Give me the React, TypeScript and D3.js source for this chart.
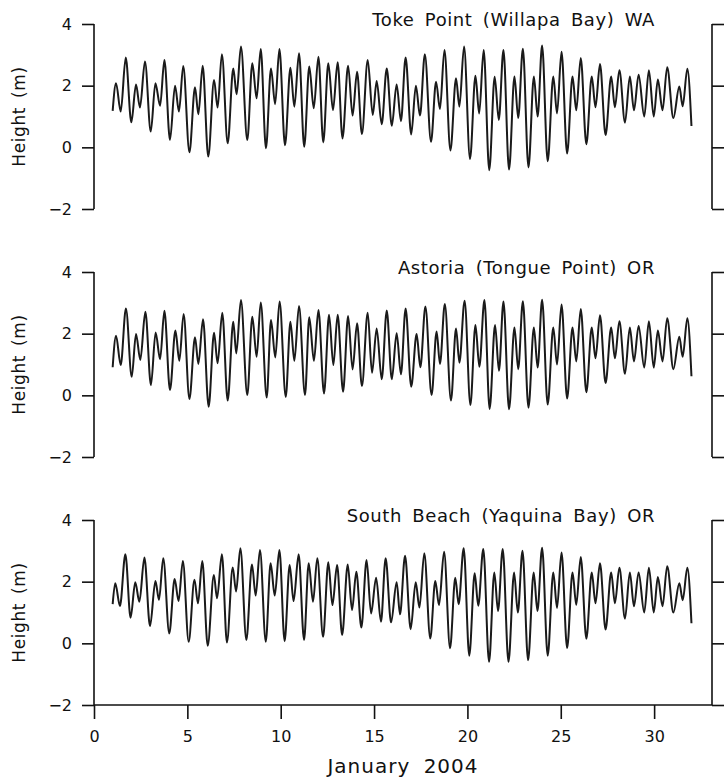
import React, { useEffect, useRef } from "react";
import * as d3 from "d3";

const W = 724;
const H = 780;

const stationNames = [
  "Toke Point (Willapa Bay) WA",
  "Astoria (Tongue Point) OR",
  "South Beach (Yaquina Bay) OR",
];
const yTickValues = [-2, 0, 2, 4];
const xTickValues = [0, 5, 10, 15, 20, 25, 30];
const xLabel = "January 2004";
const yLabel = "Height (m)";

// [day of January, height in m] at turning points
const tokePoint: [number, number][] = [
  [1.0, 1.18], [1.18, 2.08], [1.43, 1.16], [1.7, 2.91], [2.0, 0.81], [2.25, 2.04], [2.46, 1.29], [2.73, 2.78],
  [3.04, 0.51], [3.29, 2.08], [3.54, 1.35], [3.77, 2.83], [4.07, 0.24], [4.34, 2.0], [4.55, 1.16], [4.78, 2.64],
  [5.11, -0.16], [5.41, 1.95], [5.59, 1.07], [5.82, 2.65], [6.12, -0.3], [6.43, 2.18], [6.62, 1.29], [6.85, 3.02],
  [7.16, 0.13], [7.46, 2.56], [7.64, 1.72], [7.87, 3.27], [8.21, 0.24], [8.48, 2.73], [8.71, 1.59], [8.93, 3.19],
  [9.21, -0.03], [9.48, 2.56], [9.7, 1.4], [9.93, 3.19], [10.23, 0.07], [10.52, 2.58], [10.73, 1.32], [10.98, 3.05],
  [11.26, 0.02], [11.53, 2.62], [11.77, 1.27], [12.02, 2.94], [12.28, 0.16], [12.55, 2.73], [12.8, 1.21], [13.05, 2.76],
  [13.31, 0.29], [13.61, 2.65], [13.85, 1.03], [14.09, 2.45], [14.35, 0.43], [14.66, 2.83], [14.93, 1.05], [15.14, 2.15],
  [15.41, 0.75], [15.68, 2.56], [15.95, 0.7], [16.21, 2.04], [16.44, 0.85], [16.69, 2.91], [16.99, 0.42], [17.24, 2.0],
  [17.46, 1.03], [17.72, 3.02], [18.05, 0.18], [18.32, 2.13], [18.53, 1.24], [18.77, 3.16], [19.09, -0.1], [19.39, 2.24],
  [19.57, 1.32], [19.82, 3.27], [20.14, -0.38], [20.43, 2.32], [20.63, 1.1], [20.87, 3.16], [21.17, -0.74], [21.46, 2.29],
  [21.68, 0.89], [21.93, 3.16], [22.23, -0.72], [22.52, 2.3], [22.72, 0.95], [22.97, 3.2], [23.27, -0.65], [23.56, 2.3],
  [23.76, 1.0], [24.0, 3.3], [24.3, -0.45], [24.6, 2.3], [24.8, 1.1], [25.04, 3.1], [25.34, -0.2], [25.63, 2.3],
  [25.83, 1.2], [26.07, 2.9], [26.37, 0.1], [26.66, 2.3], [26.86, 1.3], [27.1, 2.7], [27.4, 0.4], [27.7, 2.3],
  [27.9, 1.3], [28.14, 2.5], [28.44, 0.8], [28.7, 2.3], [28.92, 1.2], [29.17, 2.35], [29.47, 1.0], [29.72, 2.5],
  [29.98, 1.0], [30.2, 2.2], [30.45, 1.2], [30.7, 2.6], [31.03, 0.95], [31.35, 1.97], [31.53, 1.33], [31.78, 2.55], [32.0, 0.69],
];

const astoria: [number, number][] = [
  [1.0, 0.91], [1.18, 1.93], [1.43, 0.98], [1.71, 2.82], [2.02, 0.6], [2.25, 1.99], [2.48, 1.15], [2.75, 2.71],
  [3.05, 0.33], [3.3, 2.04], [3.54, 1.17], [3.77, 2.74], [4.07, 0.17], [4.36, 2.1], [4.57, 1.12], [4.8, 2.64],
  [5.11, -0.12], [5.41, 1.88], [5.59, 1.02], [5.84, 2.47], [6.14, -0.37], [6.43, 2.03], [6.62, 1.04], [6.87, 2.68],
  [7.16, -0.17], [7.46, 2.39], [7.62, 1.36], [7.87, 3.09], [8.21, 0.01], [8.48, 2.55], [8.71, 1.25], [8.93, 3.01],
  [9.25, -0.07], [9.48, 2.44], [9.71, 1.23], [9.94, 3.04], [10.27, -0.05], [10.52, 2.39], [10.73, 1.12], [10.98, 2.9],
  [11.3, 0.01], [11.53, 2.53], [11.78, 1.12], [12.02, 2.77], [12.32, 0.06], [12.59, 2.61], [12.82, 0.98], [13.05, 2.61],
  [13.34, 0.12], [13.61, 2.57], [13.85, 0.84], [14.09, 2.34], [14.35, 0.3], [14.66, 2.68], [14.89, 0.73], [15.14, 2.17],
  [15.41, 0.52], [15.68, 2.75], [15.95, 0.52], [16.21, 2.01], [16.44, 0.68], [16.69, 2.82], [16.99, 0.28], [17.28, 1.99],
  [17.48, 0.91], [17.75, 2.88], [18.08, 0.01], [18.35, 2.07], [18.53, 1.02], [18.79, 2.96], [19.12, -0.17], [19.39, 2.17],
  [19.57, 1.06], [19.85, 3.07], [20.16, -0.31], [20.43, 2.28], [20.64, 0.93], [20.91, 3.09], [21.19, -0.44], [21.48, 2.28],
  [21.69, 0.8], [21.93, 3.04], [22.23, -0.45], [22.52, 2.2], [22.72, 0.85], [22.97, 3.05], [23.27, -0.4], [23.56, 2.2],
  [23.76, 0.9], [24.0, 3.1], [24.3, -0.3], [24.6, 2.2], [24.8, 1.0], [25.04, 2.95], [25.34, -0.1], [25.63, 2.2],
  [25.83, 1.1], [26.07, 2.8], [26.37, 0.1], [26.66, 2.2], [26.86, 1.2], [27.1, 2.6], [27.4, 0.4], [27.7, 2.2],
  [27.9, 1.2], [28.14, 2.4], [28.44, 0.7], [28.7, 2.2], [28.92, 1.1], [29.17, 2.25], [29.47, 0.9], [29.72, 2.4],
  [29.98, 0.9], [30.2, 2.1], [30.45, 1.1], [30.7, 2.5], [31.03, 0.85], [31.35, 1.9], [31.53, 1.25], [31.78, 2.5], [32.0, 0.62],
];

const southBeach: [number, number][] = [
  [1.0, 1.27], [1.14, 1.95], [1.39, 1.21], [1.68, 2.89], [1.96, 0.83], [2.21, 1.98], [2.43, 1.35], [2.7, 2.78],
  [3.0, 0.56], [3.29, 2.02], [3.48, 1.41], [3.71, 2.76], [4.03, 0.32], [4.32, 2.09], [4.53, 1.37], [4.76, 2.67],
  [5.07, 0.05], [5.38, 2.06], [5.57, 1.3], [5.8, 2.67], [6.09, -0.08], [6.42, 2.22], [6.59, 1.46], [6.85, 2.89],
  [7.12, 0.03], [7.43, 2.46], [7.61, 1.68], [7.84, 3.08], [8.16, 0.11], [8.46, 2.56], [8.66, 1.55], [8.89, 3.03],
  [9.2, 0.05], [9.46, 2.6], [9.68, 1.55], [9.93, 3.03], [10.21, 0.07], [10.48, 2.54], [10.69, 1.37], [10.96, 2.89],
  [11.25, 0.11], [11.5, 2.6], [11.73, 1.35], [11.96, 2.76], [12.27, 0.21], [12.55, 2.63], [12.77, 1.24], [13.02, 2.54],
  [13.29, 0.27], [13.59, 2.56], [13.82, 1.08], [14.05, 2.32], [14.32, 0.51], [14.6, 2.7], [14.84, 0.97], [15.11, 2.13],
  [15.37, 0.7], [15.62, 2.76], [15.91, 0.68], [16.21, 1.98], [16.39, 0.94], [16.66, 2.84], [16.96, 0.46], [17.23, 1.98],
  [17.43, 1.16], [17.69, 2.92], [18.01, 0.16], [18.28, 2.02], [18.48, 1.24], [18.75, 2.97], [19.07, -0.16], [19.35, 2.13],
  [19.53, 1.27], [19.8, 3.08], [20.1, -0.4], [20.39, 2.27], [20.58, 1.22], [20.85, 3.06], [21.16, -0.6], [21.44, 2.3],
  [21.64, 1.05], [21.89, 3.06], [22.2, -0.6], [22.5, 2.3], [22.7, 1.0], [22.95, 3.0], [23.25, -0.55], [23.55, 2.3],
  [23.75, 1.05], [24.0, 3.1], [24.3, -0.4], [24.6, 2.3], [24.8, 1.15], [25.04, 2.95], [25.34, -0.15], [25.63, 2.3],
  [25.83, 1.25], [26.07, 2.8], [26.37, 0.15], [26.66, 2.3], [26.86, 1.3], [27.1, 2.6], [27.4, 0.45], [27.7, 2.3],
  [27.9, 1.3], [28.14, 2.45], [28.44, 0.8], [28.7, 2.3], [28.92, 1.2], [29.17, 2.3], [29.47, 1.0], [29.72, 2.45],
  [29.98, 1.0], [30.2, 2.15], [30.45, 1.2], [30.7, 2.5], [31.03, 1.0], [31.35, 1.95], [31.53, 1.4], [31.78, 2.45], [32.0, 0.65],
];

const allSeries = [tokePoint, astoria, southBeach];

export default function App() {
  const ref = useRef<SVGSVGElement>(null);

  useEffect(() => {
    const svg = d3.select(ref.current);
    svg.selectAll("*").remove();
    const font = "'DejaVu Sans', sans-serif";

    const x = d3.scaleLinear().domain([0, 33.1]).range([94, 712]);
    const panelStep = 248;

    allSeries.forEach((data, i) => {
      const top = 24 + panelStep * i;
      const y = d3.scaleLinear().domain([-2, 4]).range([top + 185, top]);
      const g = svg.append("g");

      const left = g
        .append("g")
        .attr("transform", "translate(94,0)")
        .call(
          d3
            .axisLeft(y)
            .tickValues(yTickValues)
            .tickSize(12)
            .tickPadding(10)
            .tickFormat(d3.format("d"))
        );
      left.select(".domain").attr("d", `M0,${y(4)}V${y(-2)}`);
      left.selectAll("line, path").attr("stroke", "#111").attr("stroke-width", 1.6);
      left
        .selectAll("text")
        .attr("font-family", font)
        .attr("font-size", 16)
        .attr("fill", "#111");

      const right = g
        .append("g")
        .attr("transform", "translate(712,0)")
        .call(d3.axisRight(y).tickValues(yTickValues).tickSize(12).tickFormat(() => ""));
      right.select(".domain").attr("d", `M0,${y(4)}V${y(-2)}`);
      right.selectAll("line, path").attr("stroke", "#111").attr("stroke-width", 1.6);

      g.append("text")
        .attr("x", 20)
        .attr("y", (y(4) + y(-2)) / 2)
        .attr("transform", `rotate(-90,20,${(y(4) + y(-2)) / 2})`)
        .attr("text-anchor", "middle")
        .attr("dominant-baseline", "middle")
        .attr("font-family", font)
        .attr("font-size", 17)
        .attr("letter-spacing", 0.6)
        .attr("word-spacing", 3)
        .attr("fill", "#111")
        .text(yLabel);

      g.append("text")
        .attr("x", 655)
        .attr("y", y(4) + 2)
        .attr("text-anchor", "end")
        .attr("font-family", font)
        .attr("font-size", 18)
        .attr("letter-spacing", 0.6)
        .attr("word-spacing", 4)
        .attr("fill", "#111")
        .text(stationNames[i]);

      const line = d3
        .line<[number, number]>()
        .x((d) => x(d[0]))
        .y((d) => y(d[1]))
        .curve(d3.curveMonotoneX);

      g.append("path")
        .attr("d", line(data) || "")
        .attr("fill", "none")
        .attr("stroke", "#1a1a1a")
        .attr("stroke-width", 2)
        .attr("stroke-linejoin", "round");

      if (i === allSeries.length - 1) {
        const bottom = g
          .append("g")
          .attr("transform", `translate(0,${y(-2)})`)
          .call(
            d3
              .axisBottom(x)
              .tickValues(xTickValues)
              .tickSize(14)
              .tickPadding(12)
              .tickFormat(d3.format("d"))
          );
        bottom.select(".domain").attr("d", `M94,0H712`);
        bottom.selectAll("line, path").attr("stroke", "#111").attr("stroke-width", 1.6);
        bottom
          .selectAll("text")
          .attr("font-family", font)
          .attr("font-size", 16)
          .attr("fill", "#111");

        g.append("text")
          .attr("x", 403)
          .attr("y", 773)
          .attr("text-anchor", "middle")
          .attr("font-family", font)
          .attr("font-size", 20)
          .attr("letter-spacing", 1)
          .attr("word-spacing", 6)
          .attr("fill", "#111")
          .text(xLabel);
      }
    });
  }, []);

  return (
    <svg
      ref={ref}
      width={W}
      height={H}
      style={{ position: "absolute", left: 0, top: 0, background: "#fff" }}
    />
  );
}
